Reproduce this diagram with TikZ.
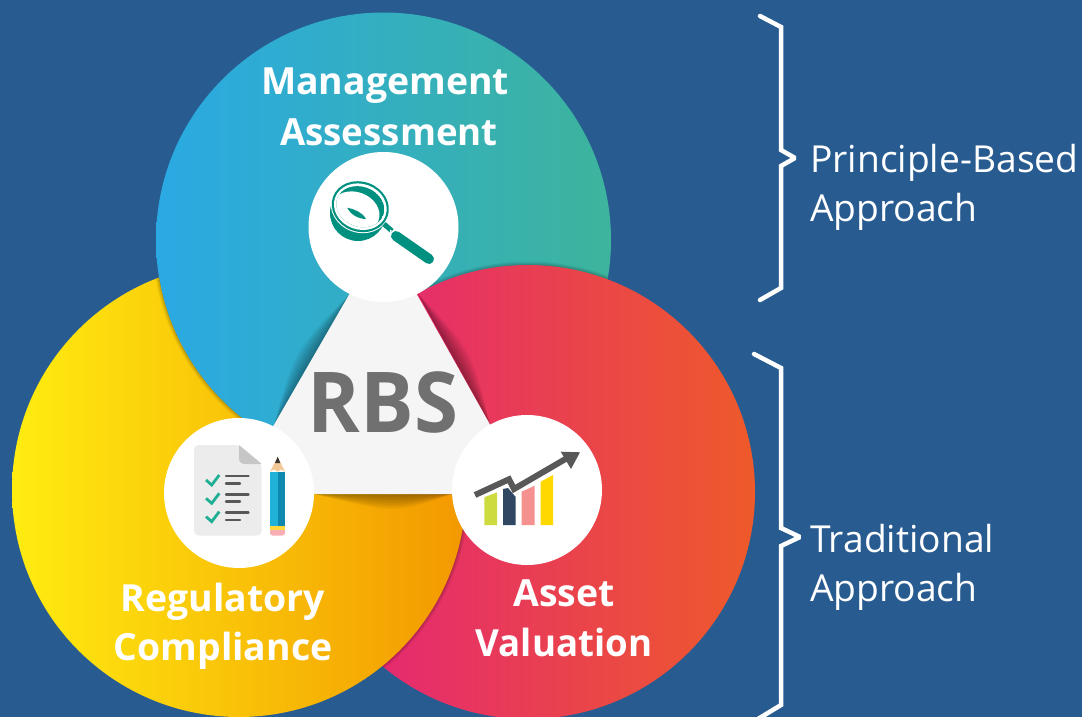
\documentclass[tikz,border=0pt]{standalone}
\usepackage{fontspec}
\setmainfont{Open Sans}
\usetikzlibrary{calc}
\definecolor{bgblue}{HTML}{285C91}
\definecolor{blueL}{HTML}{2AA9E4}
\definecolor{blueR}{HTML}{3DB49C}
\definecolor{yelL}{HTML}{FFEC10}
\definecolor{yelR}{HTML}{F39800}
\definecolor{redL}{HTML}{E3207F}
\definecolor{redR}{HTML}{EE5A2A}
\definecolor{teal1}{HTML}{00907F}
\definecolor{triF}{HTML}{F5F5F5}
\definecolor{checkC}{HTML}{1FAF95}
\definecolor{lineC}{HTML}{585858}
\definecolor{docC}{HTML}{ECECEC}
\definecolor{foldC}{HTML}{C6C6C6}
\definecolor{penL}{HTML}{21B2D8}
\definecolor{penR}{HTML}{0E88AE}
\definecolor{penY}{HTML}{FFD93B}
\definecolor{penE}{HTML}{F7AEB5}
\definecolor{penW}{HTML}{F3C998}
\definecolor{barA}{HTML}{CDDB3F}
\definecolor{barB}{HTML}{2F4762}
\definecolor{barC}{HTML}{F5918F}
\definecolor{barD}{HTML}{FFD800}
\definecolor{rbsC}{HTML}{707070}
\tikzset{
  head/.style={text=white,font=\bfseries\fontsize{37.4}{37.4}\selectfont,inner sep=0pt,anchor=base},
  side/.style={text=white,font=\fontsize{37.2}{37.2}\selectfont,inner sep=0pt,anchor=base west},
  bracket/.style={draw=white,line width=4.5pt,line cap=round,line join=miter,miter limit=2},
  whitedisc/.style={fill=white,circle,minimum size=150pt,inner sep=0pt},
  edgeshade/.style={fill=black,opacity=.04},
  rimshade/.style={draw=black,opacity=.06},
}
\begin{document}
\begin{tikzpicture}[x=1pt,y=-1pt]
\useasboundingbox (0,0) rectangle (1082,717);
\fill[bgblue] (0,0) rectangle (1082,717);
\coordinate (cT) at (383.5,240);
\coordinate (cY) at (239,490);
\coordinate (cR) at (528,492);
% blue disc
\shade[left color=blueL,right color=blueR] (cT) circle[radius=227.5];
\begin{scope}
  \clip (cT) circle[radius=227.5];
  \foreach \w in {1.5,3,5,7}{\draw[rimshade,line width=\w pt] (cR) circle[radius=227];}
\end{scope}
% red disc
\shade[left color=redL,right color=redR] (cR) circle[radius=227];
\begin{scope}
  \clip (cR) circle[radius=227];
  \foreach \w in {1.5,3,5,7}{\draw[rimshade,line width=\w pt] (cY) circle[radius=227];}
\end{scope}
% yellow disc, outside the blue one
\begin{scope}[even odd rule]
  \clip (-10,-10) rectangle (1092,727) (cT) circle[radius=227.5];
  \shade[left color=yelL,right color=yelR] (cY) circle[radius=227];
  \begin{scope}[nonzero rule]
    \clip (cY) circle[radius=227];
    \foreach \w in {1.5,3,5,7}{\draw[rimshade,line width=\w pt] (cT) circle[radius=227.5];}
  \end{scope}
\end{scope}
% triangle shadows
\foreach \d in {2,4,...,20}{
  \fill[edgeshade] (350,294) .. controls ($(312,360)+(-.87*\d,-.5*\d)$) .. (274,425) -- cycle;
  \fill[edgeshade] (418,294) .. controls ($(454,359)+(.87*\d,-.48*\d)$) .. (490,424) -- cycle;
  \fill[edgeshade] (314,494) .. controls ($(395,494)+(0,\d)$) .. (452,494) -- cycle;
}
% triangle
\fill[triF] (383.5,235) -- (234,494) -- (529,494) -- cycle;
% white discs
\node[whitedisc] (discT) at (383.5,227) {};
\node[whitedisc] (discY) at (239,493) {};
\node[whitedisc] (discR) at (527,490) {};
% magnifier
\fill[teal1] (358,213) ellipse[x radius=28,y radius=28];
\fill[white] (360.3,206.7) ellipse[x radius=30,y radius=26,rotate=-20];
\fill[teal1] (360.3,206.7) ellipse[x radius=29,y radius=25,rotate=-20];
\fill[white] (360.3,206.7) ellipse[x radius=26.8,y radius=22.8,rotate=-20];
\begin{scope}
  \clip (360.3,206.7) ellipse[x radius=24.5,y radius=20,rotate=-20];
  \fill[teal1] (360.3,206.7) ellipse[x radius=24.5,y radius=20,rotate=-20];
  \fill[white] (355,212) ellipse[x radius=25,y radius=20,rotate=-20];
\end{scope}
\fill[teal1] (347.3,207.7) .. controls (354,209) and (362,212) .. (366,219) .. controls (358,219) and (350,214) .. cycle;
\draw[teal1,line width=5pt] (384,224) -- (392,231);
\draw[white,line width=1.5pt] (391,230) -- (389,241);
\draw[teal1,line width=10pt,line cap=round] (396,236) -- (429,259);
% checklist
\fill[docC,rounded corners=5pt] (194,445) -- (239,445) -- (261.7,464) -- (261.7,535.7) -- (194,535.7) -- cycle;
\fill[foldC] (239,445) -- (261.7,464) -- (245,464) .. controls (241,464) and (239,462) .. (239,458) -- cycle;
\foreach \yy in {0,18.3,36.6}{
  \draw[draw=checkC,line width=2.8pt] (206,{480+\yy}) -- (211.7,{485+\yy}) -- (219.3,{475+\yy});
  \draw[lineC,line width=2.4pt,line cap=round] (226,{476+\yy}) -- (248.5,{476+\yy});
  \draw[lineC,line width=2.4pt,line cap=round] (226,{483.3+\yy}) -- (240,{483.3+\yy});
}
% pencil
\fill[penL] (270,471.7) rectangle (277.7,526);
\fill[penR] (277.7,471.7) rectangle (285,526);
\fill[penE,rounded corners=3pt] (270,528) -- (285,528) -- (285,535.7) -- (270,535.7) -- cycle;
\fill[penY] (270,526) rectangle (285,529.5);
\fill[penW] (270,471.7) -- (277.7,456.7) -- (285,471.7) -- (281,469.5) -- (277.7,471.7) -- (274,469.5) -- cycle;
\fill[black!78] (275,463) -- (277.7,456.7) -- (280.3,463) -- cycle;
% chart
\fill[barA] (484.3,497.3) -- (497,492.3) -- (497,525) -- (484.3,525) -- cycle;
\fill[barB] (503,489) -- (508,488) -- (515.7,497) -- (515.7,525) -- (503,525) -- cycle;
\fill[barC] (521.7,491.7) -- (534.7,485.7) -- (534.7,525) -- (521.7,525) -- cycle;
\fill[barD] (540.7,481.7) -- (553,475) -- (553,525) -- (540.7,525) -- cycle;
\draw[lineC,line width=6pt,line join=miter] (475,495) -- (509,479.3) -- (514,489) -- (566.7,458.3);
\fill[lineC] (580,452.3) -- (560.7,451.7) -- (571,469) -- cycle;
% labels
\node[head] (tM) at (385,95) {Management};
\node[head] (tA) at (389,145) {\scalebox{.98}[1]{Assessment}};
\node[head] (tR) at (223,611) {Regulatory};
\node[head] (tC) at (223,660) {Compliance};
\node[head] (tV) at (564,606) {Asset};
\node[head] (tW) at (564,656) {\scalebox{.98}[1]{Valuation}};
\node[text=rbsC,font=\bfseries\fontsize{84}{84}\selectfont,inner sep=0pt,anchor=base] (tRBS) at (383,432) {\scalebox{.95}[1]{RBS}};
% brackets
\coordinate (b1a) at (760,16);
\coordinate (b1z) at (760,300);
\draw[bracket] (b1a) -- (781,27) -- (781,150) -- (795,158) -- (781,166) -- (781,288) -- (b1z);
\coordinate (b2a) at (754,354);
\coordinate (b2z) at (753,722);
\draw[bracket] (b2a) -- (781,368) -- (781,528) -- (800,537) -- (781,546) -- (781,705) -- (b2z);
\node[side] (s1) at (810,172) {Principle-Based};
\node[side] (s2) at (810,221) {Approach};
\node[side] (s3) at (810,552) {Traditional};
\node[side] (s4) at (810,601) {Approach};
\end{tikzpicture}
\end{document}
